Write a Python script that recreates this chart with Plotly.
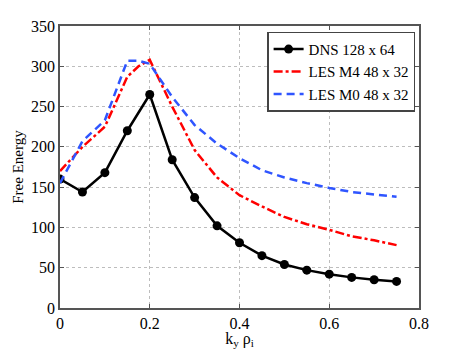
import plotly.graph_objects as go

# DNS 128 x 64
dns_k = [0, 0.05, 0.1, 0.15, 0.2, 0.25, 0.3, 0.35, 0.4, 0.45, 0.5, 0.55, 0.6, 0.65, 0.7, 0.75]
dns_fe = [160, 144, 168, 220, 265, 184, 137, 102, 81, 65, 54, 47, 42, 38, 35, 33]

# LES runs (same k grid, with one extra point near the peak)
les_k = [0, 0.05, 0.1, 0.15, 0.175, 0.2, 0.25, 0.3, 0.35, 0.4, 0.45, 0.5, 0.55, 0.6, 0.65, 0.7, 0.75]
les_m4 = [170, 200, 225, 287, 300, 308, 250, 196, 162, 140, 126, 113, 104, 97, 89, 84, 78]
les_m0 = [155, 207, 233, 307, 307, 303, 262, 227, 204, 186, 171, 162, 155, 149, 144, 141, 138]

FONT = "Liberation Serif"
AXIS_COLOR = "#555555"

fig = go.Figure()
fig.add_trace(go.Scatter(x=dns_k, y=dns_fe, name="DNS 128 x 64", mode="lines+markers",
                         line=dict(color="black", width=2.5),
                         marker=dict(color="black", size=9)))
fig.add_trace(go.Scatter(x=les_k, y=les_m4, name="LES M4 48 x 32", mode="lines",
                         line=dict(color="#ff0000", width=2.5, dash="dashdot")))
fig.add_trace(go.Scatter(x=les_k, y=les_m0, name="LES M0 48 x 32", mode="lines",
                         line=dict(color="#2f55ff", width=2.5, dash="8px,5px")))

axis_common = dict(showline=True, linecolor=AXIS_COLOR, linewidth=1.5, mirror="ticks",
                   ticks="inside", ticklen=4, tickcolor=AXIS_COLOR, automargin=False,
                   showgrid=True, gridcolor="#bdbdbd", griddash="dot", gridwidth=1,
                   zeroline=False, tickfont=dict(family=FONT, size=16, color="black"))

fig.update_xaxes(range=[0, 0.8], tickvals=[0, 0.2, 0.4, 0.6, 0.8],
                 ticktext=["0", "0.2", "0.4", "0.6", "0.8"],
                 title=dict(text="k<sub>y</sub> ρ<sub>i</sub>", standoff=2,
                            font=dict(family=FONT, size=16, color="black")),
                 **axis_common)
fig.update_yaxes(range=[0, 350], dtick=50,
                 title=dict(text="Free Energy", standoff=4,
                            font=dict(family=FONT, size=15, color="black")),
                 **axis_common)

fig.update_layout(
    width=463, height=349,
    margin=dict(l=60, r=44, t=26, b=41),
    paper_bgcolor="white", plot_bgcolor="white",
    font=dict(family=FONT, size=16, color="black"),
    showlegend=True,
    legend=dict(x=0.99, y=0.98, xanchor="right", yanchor="top",
                bgcolor="white", bordercolor="#444444", borderwidth=1.2,
                font=dict(family=FONT, size=15, color="black"),
                tracegroupgap=0, itemwidth=30),
)

# drop the page's default body margin so the figure sits at the window corner
fig.write_html("out.html", config={"displayModeBar": False},
               post_script="document.body.style.margin = '0';")
